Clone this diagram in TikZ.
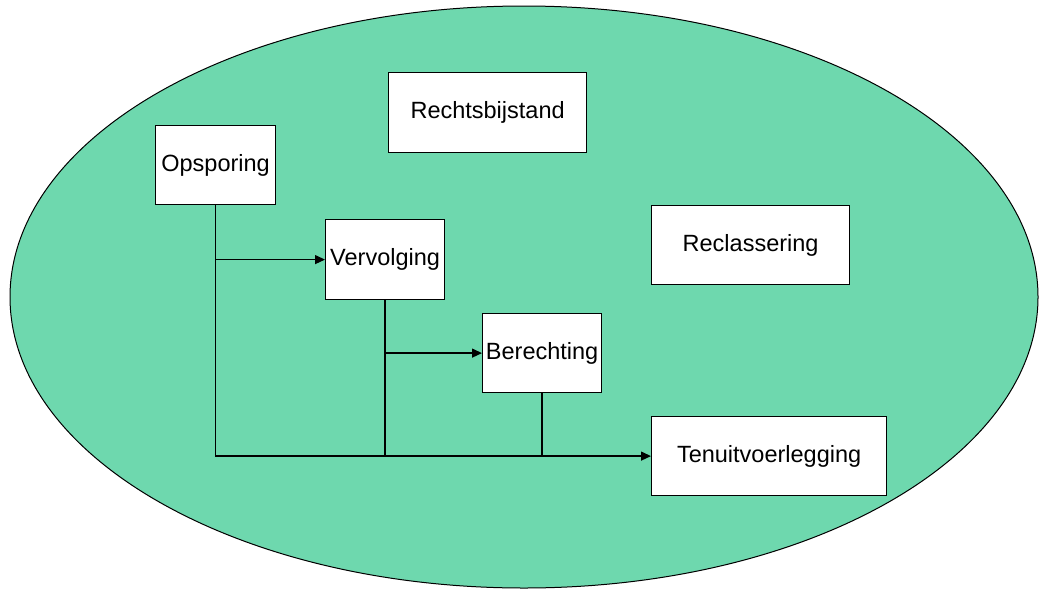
\documentclass[tikz,border=0pt]{standalone}
\usepackage{fontspec}
\setmainfont{Liberation Sans}
\usetikzlibrary{arrows.meta}
\definecolor{ovalgreen}{RGB}{110,216,174}
\begin{document}
\begin{tikzpicture}[x=1pt,y=-1pt,
  box/.style={draw=black, fill=white, line width=1.2pt, inner sep=0pt, anchor=north west,
    font=\fontsize{23.5}{28}\selectfont},
  conn/.style={line width=1.3pt},
  arr/.style={conn, -{Triangle[length=10pt,width=9pt]}}]
\useasboundingbox (0,0) rectangle (1043,589);
\draw[fill=ovalgreen, line width=1pt] (524,297) ellipse [x radius=514, y radius=291];
\node[box, minimum width=198pt, minimum height=80pt] (rech) at (388,72) {Rechtsbijstand};
\node[box, minimum width=120pt, minimum height=79pt] (ops) at (155,125) {Opsporing};
\node[box, minimum width=119pt, minimum height=80pt] (verv) at (325,219) {Vervolging};
\node[box, minimum width=198pt, minimum height=79pt] (recl) at (651,205) {Reclassering};
\node[box, minimum width=119pt, minimum height=79pt] (ber) at (482,313) {Berechting};
\node[box, minimum width=235pt, minimum height=79pt] (ten) at (651,416) {Tenuitvoerlegging};
\draw[arr] (ops.south) |- (ten.west);
\draw[arr] (ops.south |- verv.west) -- (verv.west);
\draw[conn] (verv.south) -- (verv.south |- ten.west);
\draw[arr] (verv.south |- ber.west) -- (ber.west);
\draw[conn] (ber.south) -- (ber.south |- ten.west);
\end{tikzpicture}
\end{document}
